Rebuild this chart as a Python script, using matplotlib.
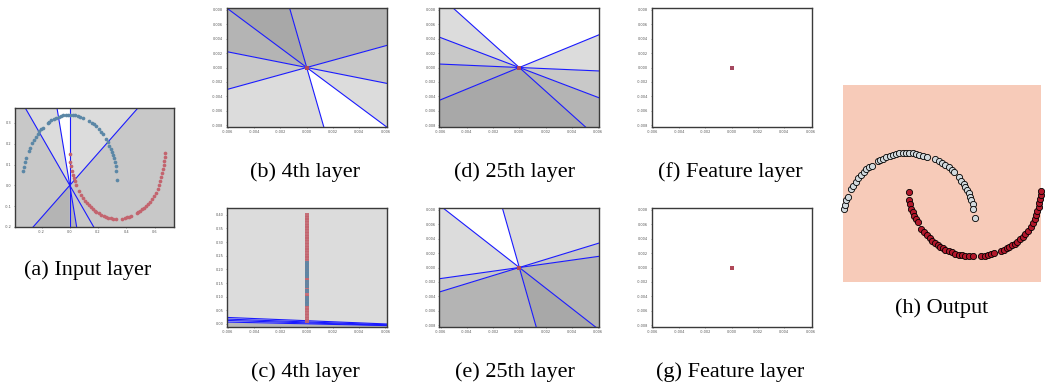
import numpy as np
import matplotlib
matplotlib.use('Agg')
import matplotlib.pyplot as plt
from matplotlib.ticker import FormatStrFormatter

W, H = 1046, 383

# ---- two-moons input (panel a / h) ----
moon_up_x = [-0.330, -0.323, -0.316, -0.310, -0.292, -0.282, -0.269, -0.255, -0.242, -0.228,
             -0.215, -0.201, -0.188, -0.157, -0.144, -0.130, -0.113, -0.096, -0.079, -0.062,
             -0.046, -0.028, -0.011, 0.005, 0.023, 0.039, 0.056, 0.073, 0.094, 0.137,
             0.155, 0.171, 0.188, 0.205, 0.219, 0.232, 0.259, 0.269, 0.280, 0.290,
             0.300, 0.307, 0.314, 0.320, 0.327, 0.330, 0.337]
moon_up_y = [0.068, 0.089, 0.110, 0.129, 0.165, 0.181, 0.201, 0.218, 0.234, 0.248,
             0.261, 0.271, 0.277, 0.299, 0.306, 0.312, 0.319, 0.325, 0.330, 0.335,
             0.338, 0.339, 0.339, 0.339, 0.338, 0.336, 0.331, 0.326, 0.322, 0.309,
             0.301, 0.293, 0.283, 0.271, 0.258, 0.248, 0.221, 0.206, 0.190, 0.174,
             0.161, 0.145, 0.129, 0.110, 0.091, 0.068, 0.026]
moon_lo_x = [0.002, 0.005, 0.010, 0.015, 0.023, 0.029, 0.036, 0.046, 0.066, 0.080,
             0.094, 0.107, 0.121, 0.134, 0.148, 0.161, 0.175, 0.188, 0.205, 0.222,
             0.239, 0.256, 0.273, 0.290, 0.307, 0.327, 0.371, 0.388, 0.405, 0.422,
             0.436, 0.473, 0.486, 0.500, 0.513, 0.527, 0.541, 0.554, 0.568, 0.581,
             0.595, 0.608, 0.622, 0.632, 0.642, 0.649, 0.656, 0.663, 0.666, 0.669,
             0.673, 0.676]
moon_lo_y = [0.150, 0.110, 0.091, 0.071, 0.052, 0.033, 0.020, 0.004, -0.028, -0.044,
             -0.059, -0.073, -0.086, -0.095, -0.105, -0.115, -0.121, -0.128, -0.134, -0.141,
             -0.147, -0.152, -0.155, -0.158, -0.160, -0.160, -0.160, -0.156, -0.153, -0.150,
             -0.145, -0.134, -0.128, -0.121, -0.115, -0.107, -0.099, -0.089, -0.078, -0.065,
             -0.051, -0.035, -0.018, 0.001, 0.020, 0.039, 0.059, 0.078, 0.097, 0.117,
             0.136, 0.155]

# ---- hyperplanes through the origin (angle in data space, degrees) and region shades ----
a_angles = [37.6, 90.0, 103.7, 130.3]
a_shades = ['#dcdcdc', '#ffffff', '#dcdcdc', '#c8c8c8', '#b4b4b4', '#b4b4b4', '#c8c8c8', '#c8c8c8']
b_angles = [26.6, 99.0, 126.5, 160.2]
b_shades = ['#b4b4b4', '#a8a8a8', '#b4b4b4', '#c8c8c8', '#dcdcdc', '#ffffff', '#dcdcdc', '#c8c8c8']
d_angles = [36.7, 121.5, 145.4, 175.5]
d_shades = ['#ffffff', '#dcdcdc', '#c8c8c8', '#b4b4b4', '#a8a8a8', '#b4b4b4', '#c8c8c8', '#dcdcdc']
e_angles = [14.3, 29.1, 98.9, 125.2]
e_shades = ['#c8c8c8', '#dcdcdc', '#ffffff', '#dcdcdc', '#c8c8c8', '#b4b4b4', '#a8a8a8', '#b4b4b4']

# panel (c): collapsed 1-d representation
c_red_y = [0.01, 0.02, 0.03, 0.04, 0.05, 0.06, 0.07, 0.08, 0.09, 0.10, 0.11, 0.12, 0.13,
           0.14, 0.15, 0.16, 0.17, 0.18, 0.19, 0.20, 0.21, 0.22, 0.23, 0.24, 0.25, 0.26,
           0.27, 0.28, 0.29, 0.30, 0.31, 0.32, 0.33, 0.34, 0.35, 0.36, 0.37, 0.38, 0.39, 0.40]
c_blue_y = [0.075, 0.085, 0.095, 0.12, 0.14, 0.155, 0.175, 0.185, 0.195, 0.205, 0.215, 0.225]
c_line_left = [0.024, 0.018, 0.013, 0.007]
c_line_right = [0.000, -0.003, -0.005, -0.006]

captions = ['(a) Input layer', '(b) 4th layer', '(c) 4th layer', '(d) 25th layer',
            '(e) 25th layer', '(f) Feature layer', '(g) Feature layer', '(h) Output']

BLUE_PT = '#5b87a6'
RED_PT = '#c3646e'
LINE = '#1a1aff'

fig = plt.figure(figsize=(W / 100, H / 100), dpi=100)
fig.patch.set_facecolor('white')


def make_ax(l, t, r, b):
    return fig.add_axes([l / W, 1 - b / H, (r - l) / W, (b - t) / H])


def style(ax, xt, yt, fmt_x, fmt_y):
    ax.set_xticks(xt)
    ax.set_yticks(yt)
    ax.xaxis.set_major_formatter(FormatStrFormatter(fmt_x))
    ax.yaxis.set_major_formatter(FormatStrFormatter(fmt_y))
    ax.tick_params(labelsize=2.5, length=1, width=0.4, pad=1.5, colors='#555555')
    for s in ax.spines.values():
        s.set_color('#3a3a3a')
        s.set_linewidth(1.0)


def shade(ax, angles, shades, R):
    dirs = sorted([a % 360 for a in angles] + [(a + 180) % 360 for a in angles])
    for i, a0 in enumerate(dirs):
        a1 = dirs[(i + 1) % len(dirs)] + (360 if i == len(dirs) - 1 else 0)
        th = np.radians([a0, (a0 + a1) / 2, a1])
        pts = [(0, 0)] + [(R * np.cos(t), R * np.sin(t)) for t in th]
        ax.fill([p[0] for p in pts], [p[1] for p in pts], color=shades[i], lw=0, zorder=0)
    for a in angles:
        t = np.radians(a)
        ax.plot([-R * np.cos(t), R * np.cos(t)], [-R * np.sin(t), R * np.sin(t)],
                color=LINE, lw=0.8, zorder=2)


xt_small = [-0.006, -0.004, -0.002, 0.0, 0.002, 0.004, 0.006]
yt_small = [-0.008, -0.006, -0.004, -0.002, 0.0, 0.002, 0.004, 0.006, 0.008]

# (a) input layer
ax = make_ax(14.7, 108.3, 174.3, 227)
shade(ax, a_angles, a_shades, 50)
ax.scatter(moon_up_x, moon_up_y, s=7, color=BLUE_PT, lw=0, zorder=3)
ax.scatter(moon_lo_x, moon_lo_y, s=7, color=RED_PT, lw=0, zorder=3)
ax.set_xlim(-0.39, 0.74)
ax.set_ylim(-0.2, 0.37)
style(ax, [-0.2, 0.0, 0.2, 0.4, 0.6], [-0.2, -0.1, 0.0, 0.1, 0.2, 0.3], '%.1f', '%.1f')

# (b), (d), (e) hyperplane panels
for (l, t, r, b), angs, shs in [((226.7, 8.3, 386.7, 126.7), b_angles, b_shades),
                                ((439.3, 8.3, 599.3, 126.7), d_angles, d_shades),
                                ((439.3, 208.3, 599.3, 326.7), e_angles, e_shades)]:
    ax = make_ax(l, t, r, b)
    shade(ax, angs, shs, 1.0)
    ax.scatter([0], [0], s=5, marker='s', color='#b04858', lw=0, zorder=3)
    ax.set_xlim(-0.0061, 0.0061)
    ax.set_ylim(-0.0082, 0.0082)
    style(ax, xt_small, yt_small, '%.3f', '%.3f')

# (c) 4th layer, second view
ax = make_ax(226.7, 208.3, 386.7, 326.7)
ax.set_facecolor('#dcdcdc')
ax.set_xlim(-0.0061, 0.0061)
ax.set_ylim(-0.01, 0.424)
low = min(range(len(c_line_left)), key=lambda i: c_line_left[i] + c_line_right[i])
ax.fill_between([-0.0061, 0.0061], [c_line_left[low], c_line_right[low]], -0.02,
                color='#b8b8b8', lw=0, zorder=0)
for yl, yr in zip(c_line_left, c_line_right):
    ax.plot([-0.0061, 0.0061], [yl, yr], color=LINE, lw=0.8, zorder=2)
ax.scatter([0] * len(c_red_y), c_red_y, s=9, marker='s', color=RED_PT, lw=0, alpha=0.9, zorder=3)
ax.scatter([0] * len(c_blue_y), c_blue_y, s=9, marker='s', color=BLUE_PT, lw=0, alpha=0.9, zorder=4)
style(ax, xt_small, [0.0, 0.05, 0.10, 0.15, 0.20, 0.25, 0.30, 0.35, 0.40], '%.3f', '%.2f')

# (f), (g) feature layer
for (l, t, r, b), col in [((651.7, 8.3, 811.7, 126.7), '#a4485f'),
                          ((651.7, 208.3, 811.7, 326.7), '#b04858')]:
    ax = make_ax(l, t, r, b)
    ax.scatter([0], [0], s=7, marker='s', color=col, lw=0, zorder=3)
    ax.set_xlim(-0.0061, 0.0061)
    ax.set_ylim(-0.0082, 0.0082)
    style(ax, xt_small, yt_small, '%.3f', '%.3f')

# (h) output
ax = make_ax(843.3, 85, 1041, 281.7)
ax.set_facecolor('#f7cbb9')
ax.scatter(moon_up_x, moon_up_y, s=20, color='#d2dade', edgecolor='black', lw=0.6,
           zorder=3, clip_on=False)
ax.scatter(moon_lo_x, moon_lo_y, s=20, color='#b2182b', edgecolor='black', lw=0.6,
           zorder=3, clip_on=False)
ax.set_xlim(-0.3315, 0.674)
ax.set_ylim(-0.282, 0.667)
ax.set_xticks([])
ax.set_yticks([])
for s in ax.spines.values():
    s.set_visible(False)

# captions
cap_pos = [(88, 270), (305, 172), (305, 372), (515, 172), (515, 372), (730, 172), (730, 372), (942, 308)]
for txt, (cx, cy) in zip(captions, cap_pos):
    fig.text(cx / W, 1 - cy / H, txt, ha='center', va='center', fontsize=16,
             family='Liberation Serif')

fig.savefig('out.png', dpi=100)
